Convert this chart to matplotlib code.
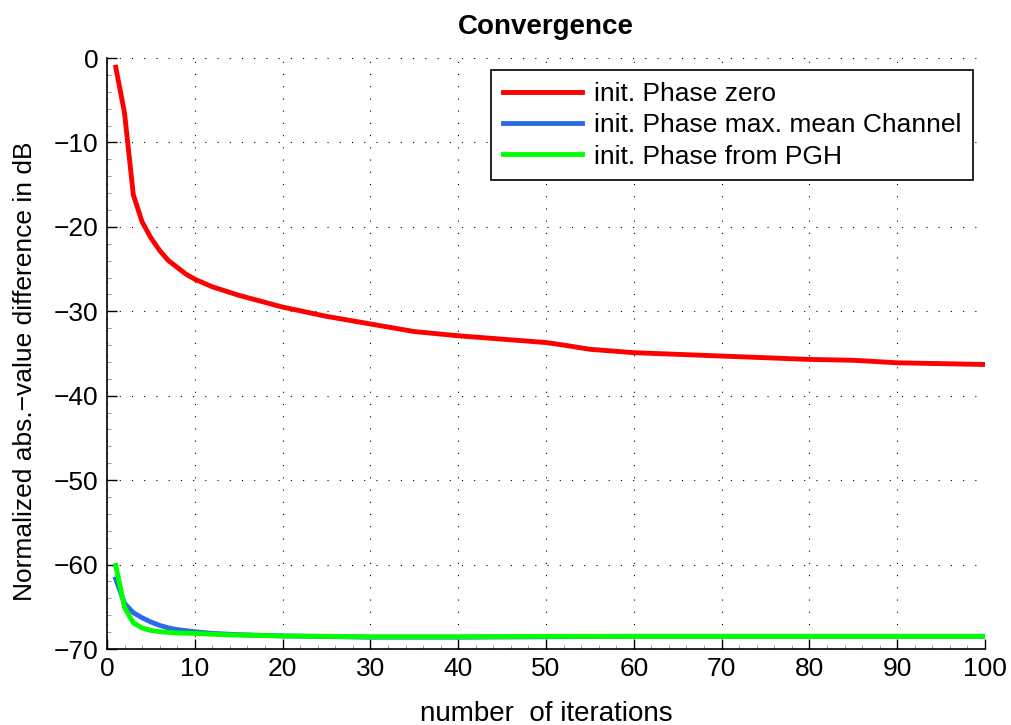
import numpy as np
import matplotlib.pyplot as plt
from matplotlib.ticker import MultipleLocator

plt.rcParams['font.family'] = ['Liberation Sans', 'DejaVu Sans']

# -----------------------
# values (iteration -> dB)
# -----------------------
iter_zero = [1, 2, 3, 4, 5, 6, 7, 8, 9, 10, 12, 15, 20, 25, 30, 35, 40, 45,
             50, 52, 55, 60, 65, 70, 75, 80, 85, 90, 95, 100]
db_zero = [-1.1, -6.5, -16.2, -19.4, -21.3, -22.8, -24.0, -24.8, -25.6, -26.2,
           -27.1, -28.1, -29.5, -30.6, -31.5, -32.4, -32.9, -33.3, -33.7,
           -34.0, -34.5, -34.9, -35.1, -35.3, -35.5, -35.7, -35.8, -36.1,
           -36.2, -36.3]

iter_mean = [1, 2, 3, 4, 5, 6, 7, 8, 10, 12, 15, 20, 30, 40, 50, 60, 70, 80, 90, 100]
db_mean = [-61.7, -64.6, -65.7, -66.3, -66.8, -67.2, -67.5, -67.7, -67.95, -68.15,
           -68.3, -68.45, -68.6, -68.6, -68.55, -68.5, -68.5, -68.5, -68.5, -68.5]

iter_pgh = [1, 2, 3, 4, 5, 6, 8, 10, 12, 15, 20, 30, 40, 50, 60, 70, 80, 90, 100]
db_pgh = [-60.1, -65.1, -66.9, -67.5, -67.8, -67.95, -68.1, -68.15, -68.25,
          -68.35, -68.45, -68.55, -68.55, -68.5, -68.5, -68.5, -68.5, -68.5, -68.5]

labels = ["init. Phase zero", "init. Phase max. mean Channel", "init. Phase from PGH"]
colors = ["#ff0000", "#2b6be6", "#00ff00"]

fig = plt.figure(figsize=(10.11, 7.25), dpi=100)
ax = fig.add_axes([0.1058, 0.1048, 0.8685, 0.8152])

ax.plot(iter_zero, db_zero, color=colors[0], lw=3.5, label=labels[0])
ax.plot(iter_mean, db_mean, color=colors[1], lw=3.5, label=labels[1])
ax.plot(iter_pgh, db_pgh, color=colors[2], lw=3.5, label=labels[2])

ax.set_xlim(0, 100)
ax.set_ylim(-70, 0)
ax.set_xticks(np.arange(0, 101, 10))
ax.set_yticks(np.arange(-70, 1, 10))
ax.xaxis.set_minor_locator(MultipleLocator(2))
ax.yaxis.set_minor_locator(MultipleLocator(2))
ax.set_yticklabels(["\u221270", "\u221260", "\u221250", "\u221240", "\u221230",
                    "\u221220", "\u221210", "0"])

ax.grid(True, which='major', color='black', linestyle=(0, (1, 10)), lw=0.8)
ax.tick_params(which='major', direction='in', length=7, width=1, labelsize=19,
               top=False, right=False, pad=6)
ax.tick_params(which='minor', direction='in', length=3, width=0.6, color='#888888',
               top=False, right=False)
ax.spines['top'].set_visible(False)
ax.spines['right'].set_visible(False)
ax.spines['left'].set_linewidth(1.2)
ax.spines['bottom'].set_linewidth(1.2)

ax.set_title("Convergence", fontsize=20, fontweight='bold', pad=17)
ax.set_xlabel("number  of iterations", fontsize=20, labelpad=14)
ax.set_ylabel("Normalized abs.\u2212value difference in dB", fontsize=19)
ax.yaxis.set_label_coords(-0.08, 0.47)

leg = ax.legend(loc='upper right', fontsize=19, fancybox=False, framealpha=1,
                edgecolor='black', borderaxespad=0.45, handlelength=3.0,
                labelspacing=0.28, borderpad=0.45, handletextpad=0.45)
leg.get_frame().set_linewidth(1.2)

fig.savefig("out.png", dpi=100)
